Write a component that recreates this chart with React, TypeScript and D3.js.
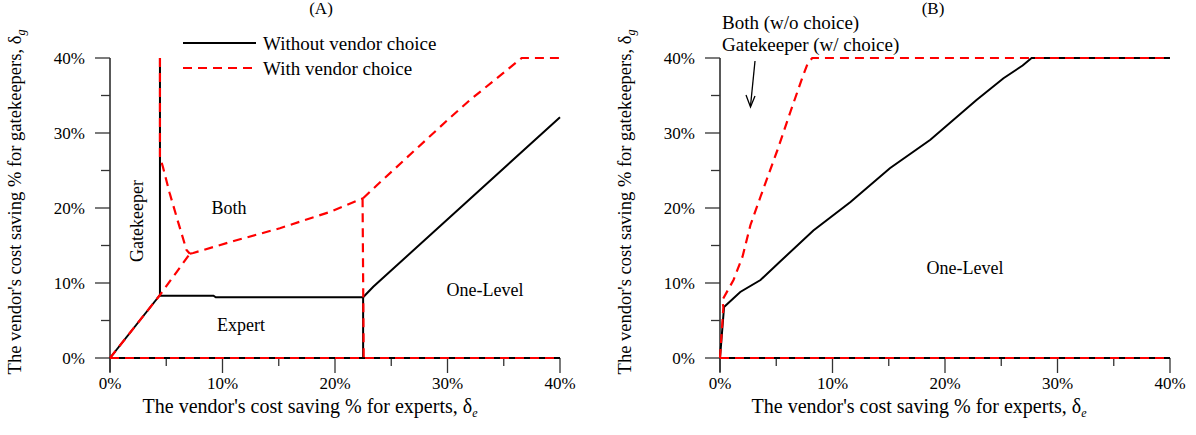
import React, { useEffect, useRef } from 'react';
import * as d3 from 'd3';

// tick values (percent)
const xTicks = [0, 10, 20, 30, 40];
const yTicks = [0, 10, 20, 30, 40];
const minorTicks = [5, 15, 25, 35];

// Panel A - without vendor choice (black, solid)
const aWithoutZero = [[0, 0], [40, 0]];
const aWithoutGateDiag = [[0, 0], [4.44, 8.4]];
const aWithoutGateEdge = [[4.44, 8.4], [4.44, 40]];
const aWithoutExpertTop = [[4.44, 8.3], [9.2, 8.3], [9.4, 8.1], [22.5, 8.1]];
const aWithoutExpertEdge = [[22.5, 0], [22.5, 8.1]];
const aWithoutOneLevel = [[22.5, 8.1], [23.4, 9.5], [40, 32.1]];

// Panel A - with vendor choice (red, dashed)
const aWithZero = [[0, 0], [40, 0]];
const aWithDiag = [[0, 0], [4.44, 8.4], [7.1, 13.9]];
const aWithGateEdge = [[4.44, 40], [4.44, 26.8], [4.7, 25.5], [5.3, 22], [6.0, 18.4], [6.8, 14.4], [7.1, 13.9]];
const aWithBothLower = [[7.1, 13.9], [7.4, 14], [11, 15.6], [15.1, 17.3], [19.6, 19.5], [22.5, 21.3]];
const aWithExpertEdge = [[22.45, 21.3], [22.55, 0]];
const aWithOneLevel = [[22.5, 21.3], [23.7, 23], [30.2, 32], [32, 34.4], [36.6, 40], [40, 40]];

// Panel B
const bWithoutZero = [[0, 0], [40, 0]];
const bWithoutMain = [[0, 0], [0.36, 6.8], [1.8, 8.8], [3.6, 10.4], [5.3, 12.8], [8.3, 17], [11.6, 20.8],
  [15.1, 25.3], [18.7, 29.1], [22.8, 34.4], [25.2, 37.3], [26.9, 39], [27.7, 40], [40, 40]];
const bWithZero = [[0, 0], [40, 0]];
const bWithMain = [[0, 0], [0.3, 6.8], [0.2, 7.7], [1.2, 10.4], [2, 13.5], [2.7, 17.7], [3.6, 21.5],
  [5.1, 27.7], [6.3, 33], [7.3, 37.3], [7.8, 39.3], [8.2, 40], [40, 40]];

const FONT = '"Liberation Serif", "Times New Roman", serif';

const App = () => {
  const ref = useRef<SVGSVGElement>(null);

  useEffect(() => {
    const svg = d3.select(ref.current);
    svg.selectAll('*').remove();

    const y = d3.scaleLinear().domain([0, 40]).range([358, 58]);
    const line = (x: d3.ScaleLinear<number, number>) =>
      d3.line<number[]>().x(d => x(d[0])).y(d => y(d[1]));

    const drawPanel = (x0: number, title: string, titleX: number, xTitleX: number,
      black: number[][][], red: number[][][]) => {
      const x = d3.scaleLinear().domain([0, 40]).range([x0, x0 + 450]);
      const g = svg.append('g');

      // y axis
      g.append('line').attr('x1', x0).attr('x2', x0).attr('y1', 58).attr('y2', 372)
        .attr('stroke', '#222').attr('stroke-width', 1.5);
      yTicks.forEach(t => {
        g.append('line').attr('x1', x0 - 15).attr('x2', x0).attr('y1', y(t)).attr('y2', y(t))
          .attr('stroke', '#333').attr('stroke-width', 1.3);
        g.append('text').attr('x', x0 - 25).attr('y', y(t)).attr('dy', '0.35em')
          .attr('text-anchor', 'end').text(t + '%');
      });
      minorTicks.forEach(t => {
        g.append('line').attr('x1', x0 - 9).attr('x2', x0).attr('y1', y(t)).attr('y2', y(t))
          .attr('stroke', '#333').attr('stroke-width', 1.3);
      });

      // x axis
      g.append('line').attr('x1', x0).attr('x2', x0 + 450).attr('y1', 358).attr('y2', 358)
        .attr('stroke', '#222').attr('stroke-width', 1.3);
      xTicks.forEach(t => {
        g.append('line').attr('x1', x(t)).attr('x2', x(t)).attr('y1', 358).attr('y2', 373)
          .attr('stroke', '#333').attr('stroke-width', 1.3);
        g.append('text').attr('x', x(t)).attr('y', 383).attr('dy', '0.35em')
          .attr('text-anchor', 'middle').text(t + '%');
      });
      minorTicks.forEach(t => {
        g.append('line').attr('x1', x(t)).attr('x2', x(t)).attr('y1', 358).attr('y2', 366)
          .attr('stroke', '#333').attr('stroke-width', 1.3);
      });

      // titles
      g.append('text').attr('x', titleX).attr('y', 14).attr('text-anchor', 'middle').text(title);

      const xt = g.append('text').attr('x', xTitleX).attr('y', 413).attr('text-anchor', 'middle')
        .attr('font-size', 20);
      xt.append('tspan').text("The vendor's cost saving % for experts, \u03b4");
      xt.append('tspan').attr('font-size', 12).attr('font-style', 'italic').attr('dy', 4).text('e');

      const yt = g.append('text').attr('transform', `translate(${x0 - 89},202) rotate(-90)`)
        .attr('text-anchor', 'middle').attr('font-size', 18.5);
      yt.append('tspan').text("The vendor's cost saving % for gatekeepers, \u03b4");
      yt.append('tspan').attr('font-size', 12).attr('font-style', 'italic').attr('dy', 4).text('g');

      // data
      black.forEach(seg => {
        g.append('path').attr('d', line(x)(seg)).attr('fill', 'none')
          .attr('stroke', '#000').attr('stroke-width', 2);
      });
      red.forEach(seg => {
        g.append('path').attr('d', line(x)(seg)).attr('fill', 'none')
          .attr('stroke', '#ff0000').attr('stroke-width', 2.2).attr('stroke-dasharray', '9,6');
      });
      return { g, x };
    };

    svg.attr('font-family', FONT).attr('font-size', 17).attr('fill', '#000');

    const A = drawPanel(110, '(A)', 321, 310,
      [aWithoutZero, aWithoutGateDiag, aWithoutGateEdge, aWithoutExpertTop, aWithoutExpertEdge, aWithoutOneLevel],
      [aWithZero, aWithDiag, aWithGateEdge, aWithBothLower, aWithExpertEdge, aWithOneLevel]);

    // region labels A
    const region = A.g.append('g').attr('font-size', 18);
    region.append('text').attr('transform', 'translate(143,221) rotate(-90)').attr('text-anchor', 'middle').text('Gatekeeper');
    region.append('text').attr('x', 229).attr('y', 208).attr('dy', '0.35em').attr('text-anchor', 'middle').text('Both');
    region.append('text').attr('x', 241).attr('y', 325).attr('dy', '0.35em').attr('text-anchor', 'middle').text('Expert');
    region.append('text').attr('x', 485).attr('y', 290).attr('dy', '0.35em').attr('text-anchor', 'middle').text('One-Level');

    // legend
    const legend = A.g.append('g').attr('font-size', 19);
    legend.append('line').attr('x1', 183).attr('x2', 256).attr('y1', 43).attr('y2', 43)
      .attr('stroke', '#000').attr('stroke-width', 2);
    legend.append('text').attr('x', 263).attr('y', 43).attr('dy', '0.35em').text('Without vendor choice');
    legend.append('line').attr('x1', 183).attr('x2', 256).attr('y1', 68).attr('y2', 68)
      .attr('stroke', '#ff0000').attr('stroke-width', 2.2).attr('stroke-dasharray', '9,6');
    legend.append('text').attr('x', 263).attr('y', 68).attr('dy', '0.35em').text('With vendor choice');

    const B = drawPanel(720, '(B)', 933, 919,
      [bWithoutZero, bWithoutMain],
      [bWithZero, bWithMain]);

    B.g.append('text').attr('x', 965).attr('y', 268).attr('dy', '0.35em').attr('text-anchor', 'middle')
      .attr('font-size', 18).text('One-Level');
    const note = B.g.append('g').attr('font-size', 19);
    note.append('text').attr('x', 722).attr('y', 29).text('Both (w/o choice)');
    note.append('text').attr('x', 722).attr('y', 51).text('Gatekeeper (w/ choice)');
    B.g.append('line').attr('x1', 755).attr('y1', 61).attr('x2', 750.5).attr('y2', 106)
      .attr('stroke', '#000').attr('stroke-width', 1.3);
    B.g.append('path').attr('d', 'M746,95 L750.5,107 L755,96').attr('fill', 'none')
      .attr('stroke', '#000').attr('stroke-width', 1.3);
  }, []);

  return (
    <svg ref={ref} width={1196} height={435}
      style={{ position: 'absolute', left: 0, top: 0, background: '#fff' }} />
  );
};

export default App;
